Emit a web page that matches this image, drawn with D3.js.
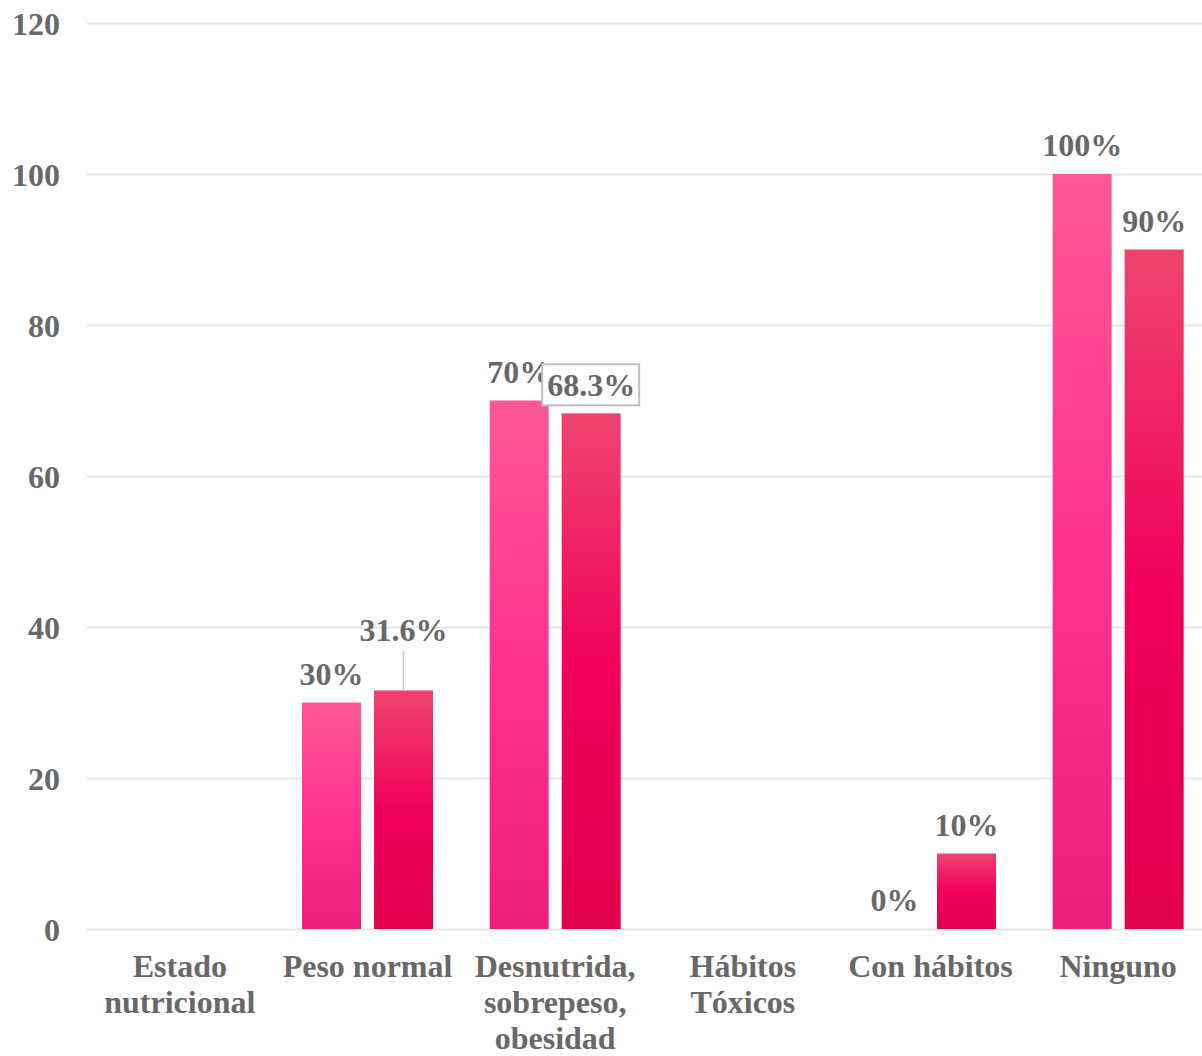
<!DOCTYPE html>
<html>
<head>
<meta charset="utf-8">
<script src="https://cdn.jsdelivr.net/npm/d3@7"></script>
<style>
  body { margin: 0; background: #fff; }
  svg text { font-family: "Liberation Serif", "Times New Roman", serif; font-weight: bold; }
  .grid line { stroke: #e6e6e6; stroke-width: 2px; }
  .grid path { display: none; }
  .y.axis path, .y.axis line { display: none; }
  .y.axis text, .x.axis text, .label { fill: #686868; font-size: 32px; }
  .x.axis path, .x.axis line { display: none; }
</style>
</head>
<body>
<svg id="chart" width="1202" height="1056"></svg>
<script>
  var categories = ["Estado nutricional", "Peso normal", "Desnutrida, sobrepeso, obesidad", "Hábitos Tóxicos", "Con hábitos", "Ninguno"];
  var seriesA = [null, 30, 70, null, 0, 100];
  var seriesB = [null, 31.6, 68.3, null, 10, 90];
  var labelsA = ["", "30%", "70%", "", "0%", "100%"];
  var labelsB = ["", "31.6%", "68.3%", "", "10%", "90%"];
  var yTicks = [0, 20, 40, 60, 80, 100, 120];

  var svg = d3.select("#chart");
  var x = d3.scaleBand().domain(categories).range([86, 1212]).paddingInner(0).paddingOuter(0);
  var y = d3.scaleLinear().domain([0, 120]).range([929, 23]);
  var barW = 59, gap = 13;

  var defs = svg.append("defs");
  function grad(id, stops) {
    var g = defs.append("linearGradient").attr("id", id)
      .attr("x1", 0).attr("y1", 0).attr("x2", 0).attr("y2", 1);
    stops.forEach(function(s) {
      g.append("stop").attr("offset", s[0]).attr("stop-color", s[1]);
    });
  }
  grad("gA", [[0, "#ff5893"], [0.5, "#ff3390"], [1, "#e91f7b"]]);
  grad("gB", [[0, "#ee4470"], [0.5, "#f0005a"], [1, "#e0004d"]]);

  svg.append("g")
    .attr("class", "grid")
    .attr("transform", "translate(87,0)")
    .call(d3.axisLeft(y).tickValues(yTicks).tickSize(-1200).tickFormat(""));

  svg.append("g")
    .attr("class", "y axis")
    .attr("transform", "translate(60,0)")
    .call(d3.axisLeft(y).tickValues(yTicks).tickSize(0).tickPadding(0))
    .selectAll("text").attr("dy", "0.35em");

  var xAxis = svg.append("g")
    .attr("class", "x axis")
    .attr("transform", "translate(0,929)")
    .call(d3.axisBottom(x).tickSize(0).tickPadding(0));

  var wrapLines = {
    "Estado nutricional": ["Estado", "nutricional"],
    "Desnutrida, sobrepeso, obesidad": ["Desnutrida,", "sobrepeso,", "obesidad"],
    "Hábitos Tóxicos": ["Hábitos", "Tóxicos"]
  };
  xAxis.selectAll(".tick text").each(function(d) {
    var t = d3.select(this).text(null).attr("y", 0).attr("dy", null);
    var lines = wrapLines[d] || [d];
    lines.forEach(function(l, i) {
      t.append("tspan").attr("x", 0).attr("y", 48 + i * 36).text(l);
    });
  });

  function cx(i, s) {
    var c = x(categories[i]) + x.bandwidth() / 2;
    return s === 0 ? c - gap / 2 - barW / 2 : c + gap / 2 + barW / 2;
  }

  [[seriesA, "gA"], [seriesB, "gB"]].forEach(function(sr, s) {
    var vals = sr[0];
    svg.append("g").selectAll("rect")
      .data(vals.map(function(v, i) { return {v: v, i: i}; }).filter(function(d) { return d.v; }))
      .enter().append("rect")
      .attr("x", function(d) { return cx(d.i, s) - barW / 2; })
      .attr("y", function(d) { return y(d.v); })
      .attr("width", barW)
      .attr("height", function(d) { return y(0) - y(d.v); })
      .attr("fill", "url(#" + sr[1] + ")");
  });

  // labels for series A
  seriesA.forEach(function(v, i) {
    if (v === null) return;
    svg.append("text").attr("class", "label")
      .attr("x", cx(i, 0)).attr("y", y(v) - 18)
      .attr("text-anchor", "middle").text(labelsA[i]);
  });

  // labels for series B (two of them moved like in the original)
  seriesB.forEach(function(v, i) {
    if (v === null) return;
    var lx = cx(i, 1), ly = y(v) - 18;
    if (labelsB[i] === "31.6%") {
      ly = y(v) - 49;
      svg.append("line").attr("x1", lx).attr("x2", lx)
        .attr("y1", ly + 10).attr("y2", y(v))
        .attr("stroke", "#c8c8c8").attr("stroke-width", 1.5);
    }
    if (labelsB[i] === "68.3%") {
      ly = y(v) - 17;
      svg.append("rect").attr("x", lx - 49).attr("y", ly - 32)
        .attr("width", 97).attr("height", 41)
        .attr("fill", "#fff").attr("stroke", "#bfbfbf").attr("stroke-width", 2);
    }
    svg.append("text").attr("class", "label")
      .attr("x", lx).attr("y", ly)
      .attr("text-anchor", "middle").text(labelsB[i]);
  });
</script>
</body>
</html>
